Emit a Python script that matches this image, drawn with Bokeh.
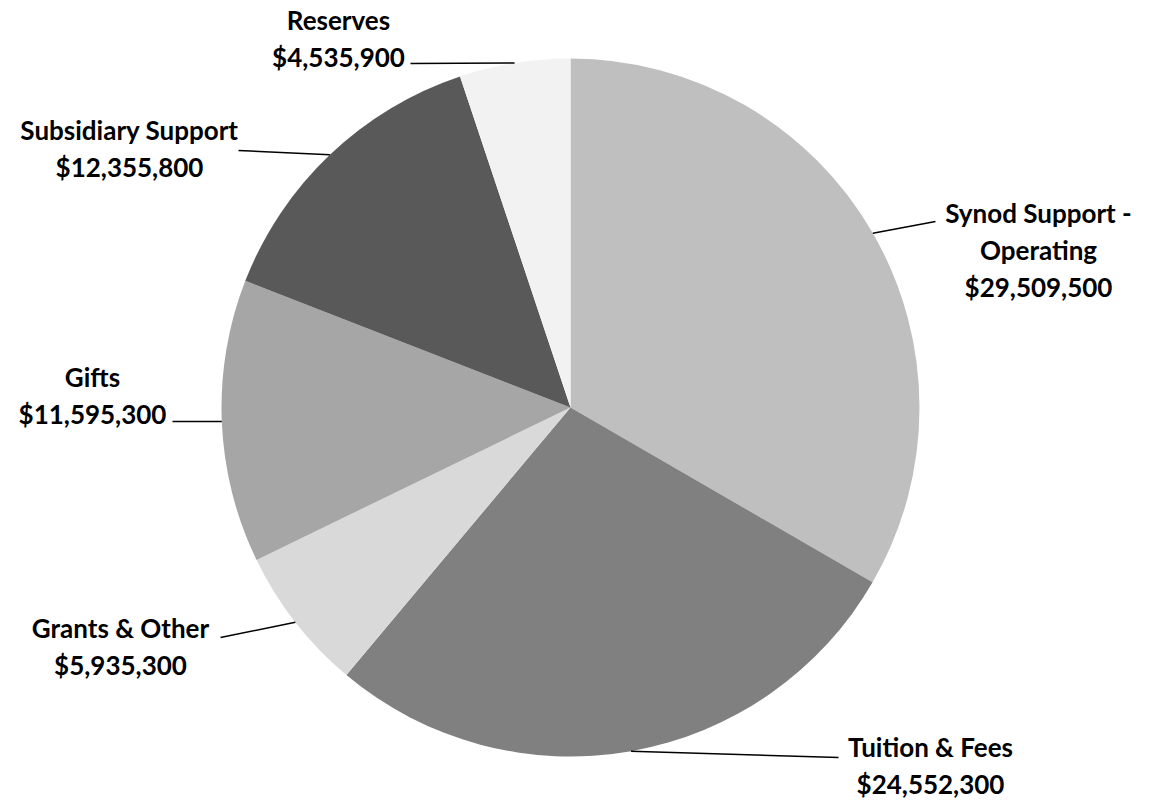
import math
from bokeh.plotting import figure
from bokeh.models import ColumnDataSource, Range1d
from bokeh.core.properties import value
from bokeh.embed import file_html
from bokeh.resources import INLINE

# ---- data ----
categories = ["Synod Support - Operating", "Tuition & Fees", "Grants & Other",
              "Gifts", "Subsidiary Support", "Reserves"]
amounts = [29509500, 24552300, 5935300, 11595300, 12355800, 4535900]
colors = ["#BFBFBF", "#808080", "#D9D9D9", "#A6A6A6", "#595959", "#F2F2F2"]
label_lines = [["Synod Support -", "Operating"], ["Tuition & Fees"], ["Grants & Other"],
               ["Gifts"], ["Subsidiary Support"], ["Reserves"]]

# ---- layout (pixel coordinates of the page) ----
W, H = 1149, 801
def dx(px): return px
def dy(py): return H - py

CX, CY, R = 570, 407, 349
label_pos = [(1038, 213), (930, 747), (120, 628), (92, 377), (129, 130), (338, 20)]
leader_start = [(935, 221), (838, 757), (220, 637), (172, 421), (238, 150), (410, 63)]
LINE_H = 37
FONT = "Lato"
FSIZE = "26px"

total = float(sum(amounts))
starts, ends, mids = [], [], []
cum = 0.0
for a in amounts:
    f0 = cum / total
    cum += a
    f1 = cum / total
    starts.append(math.pi / 2 - 2 * math.pi * f0)
    ends.append(math.pi / 2 - 2 * math.pi * f1)
    mids.append(math.pi / 2 - 2 * math.pi * (f0 + f1) / 2)

p = figure(width=W, height=H, output_backend="svg", toolbar_location=None,
           x_range=Range1d(0, W), y_range=Range1d(0, H), min_border=0)
p.axis.visible = False
p.grid.visible = False
p.outline_line_color = None
p.background_fill_color = "white"
p.border_fill_color = "white"

src = ColumnDataSource(dict(x=[dx(CX)] * len(amounts), y=[dy(CY)] * len(amounts),
                            start=starts, end=ends, color=colors))
p.wedge(x="x", y="y", radius=R, radius_units="data", start_angle="start", end_angle="end",
        direction="clock", fill_color="color", line_color=None, source=src)

# leader lines
xs, ys = [], []
for (sx, sy), m in zip(leader_start, mids):
    ex = dx(CX) + R * math.cos(m)
    ey = dy(CY) + R * math.sin(m)
    xs.append([dx(sx), ex])
    ys.append([dy(sy), ey])
p.multi_line(xs=xs, ys=ys, line_color="black", line_width=1.5)

# labels
tx, ty, tt = [], [], []
for lines, amt, (lx, ly) in zip(label_lines, amounts, label_pos):
    all_lines = lines + ["${:,}".format(amt)]
    for i, s in enumerate(all_lines):
        tx.append(dx(lx))
        ty.append(dy(ly + i * LINE_H - 1))
        tt.append(s)
p.text(x=tx, y=ty, text=tt, text_align="center", text_baseline="alphabetic",
       text_font=value(FONT), text_font_style="bold", text_font_size=FSIZE,
       text_color="black")

open("out.html", "w").write(file_html(p, INLINE))
